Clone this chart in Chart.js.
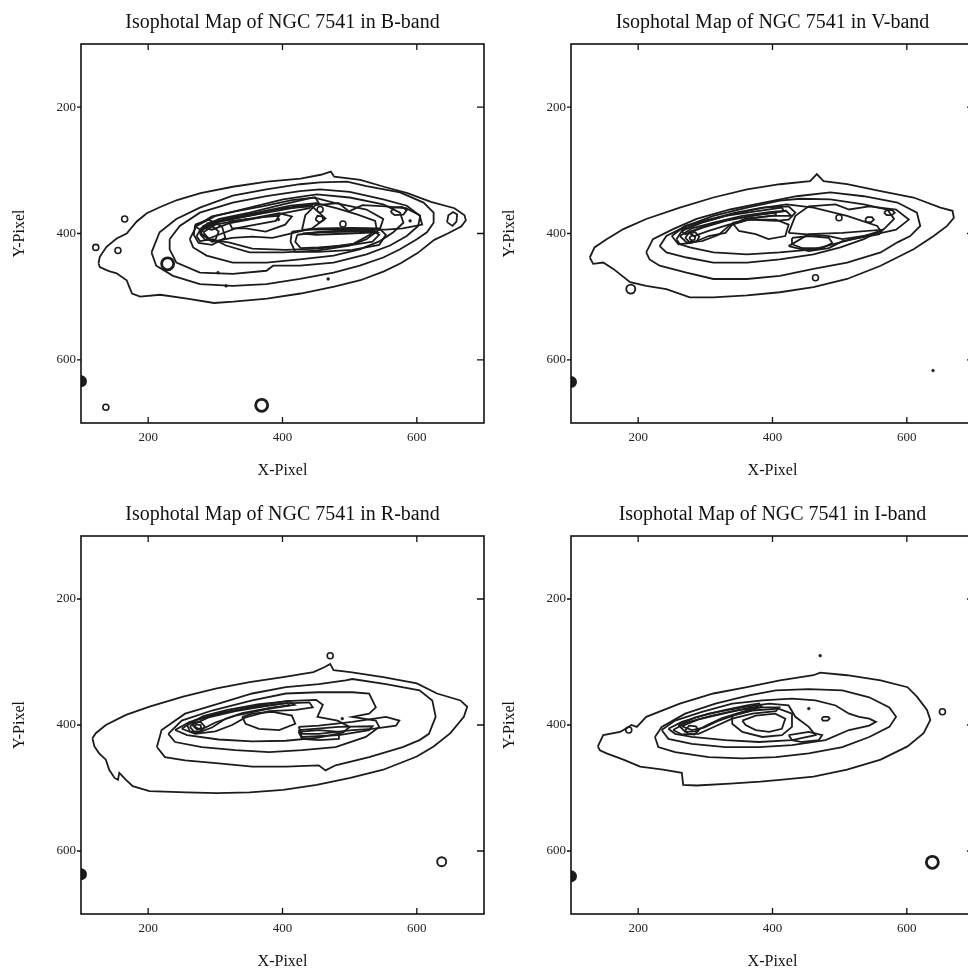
<!DOCTYPE html>
<html>
<head>
<meta charset="utf-8">
<title>Isophotal maps of NGC 7541</title>
<script src="https://cdn.jsdelivr.net/npm/chart.js@4.4.0/dist/chart.umd.min.js"></script>
<style>
  html, body { margin: 0; padding: 0; background: #fff; }
  #page { position: relative; width: 968px; height: 971px; overflow: hidden; background: #fff; }
  .panel { position: absolute; }
</style>
</head>
<body>
<div id="page">
  <canvas id="chartB" class="panel" style="left:0px;top:0px" width="487" height="486"></canvas>
  <canvas id="chartV" class="panel" style="left:490px;top:0px" width="487" height="486"></canvas>
  <canvas id="chartR" class="panel" style="left:0px;top:492px" width="487" height="485"></canvas>
  <canvas id="chartI" class="panel" style="left:490px;top:492px" width="487" height="485"></canvas>
</div>
<script>
// ---- axes ----
const xTicks = [200, 400, 600];
const yTicks = [200, 400, 600];
const axisMin = 100;
const axisMax = 700;

// ---- B-band contours (x, y pairs in pixel units of the image) ----
const bOuter = [126,447, 128,437, 138,421, 153,408, 168,400, 183,381, 198,368, 218,358, 243,347, 278,336, 326,326, 377,318, 427,313, 457,307, 472,302, 477,310, 516,315, 551,326, 586,336, 621,350, 656,360, 671,371, 673,379, 666,389, 646,400, 626,410, 601,431, 576,447, 551,460, 516,474, 477,484, 427,495, 377,503, 327,508, 298,510, 258,503, 218,497, 188,500, 176,495, 171,482, 168,474, 153,463, 143,460, 138,458, 128,453];
const bC2 = [205,430, 217,398, 242,377, 277,359, 326,340, 376,330, 426,322, 456,319, 496,318, 525,325, 575,335, 610,351, 625,367, 625,383, 615,398, 600,409, 575,425, 550,438, 515,451, 476,462, 426,472, 376,480, 326,483, 277,480, 237,467, 212,451];
const bC3 = [232,409, 247,388, 277,367, 326,351, 376,341, 426,333, 456,330, 500,334, 550,346, 585,356, 605,372, 602,388, 585,404, 560,419, 525,433, 476,446, 426,451, 386,451, 376,459, 326,464, 277,462, 242,446, 232,425];
const bC4 = [262,409, 272,388, 301,372, 351,359, 401,346, 451,338, 500,343, 550,354, 575,367, 580,383, 565,398, 545,412, 515,425, 476,435, 426,441, 376,446, 326,446, 287,435, 267,422];
const bC5 = [272,404, 282,388, 306,377, 351,367, 401,354, 446,343, 476,351, 525,362, 550,377, 545,393, 525,409, 500,419, 451,427, 401,430, 351,430, 316,419, 297,409, 277,412];
const bC6 = [278,400, 288,384, 318,376, 365,366, 412,356, 450,352, 480,360, 512,370, 538,380, 540,392, 530,402, 506,416, 454,424, 404,426, 355,424, 320,414, 292,410];
const bC7 = [275,397, 305,381, 355,371, 404,360, 444,357, 464,376, 444,392, 424,397, 404,402, 385,407, 355,405, 325,407, 295,413];
const bC8 = [282,398, 300,386, 330,380, 370,374, 395,372, 390,380, 360,386, 330,392, 305,402, 290,408];
const bArm = [270,389, 295,373, 330,365, 370,357, 414,347, 449,343, 454,352, 414,360, 370,368, 330,376, 295,384, 278,394];
const bArm2 = [285,392, 310,379, 345,372, 385,364, 425,356, 445,354, 440,360, 400,368, 360,376, 320,384, 295,394];
const bBar = [422,402, 454,398, 504,397, 534,396, 544,402, 534,413, 504,418, 454,422, 427,423, 419,413];
const bBar2 = [414,397, 454,392, 504,391, 544,392, 554,402, 544,418, 504,426, 454,429, 419,429, 412,413];
const bBar3 = [430,400, 480,396, 530,394, 540,398, 500,400, 450,402];
const bClump1 = [270,386, 290,378, 310,389, 315,407, 295,418, 275,415, 268,402];
const bClump2 = [278,392, 293,386, 305,397, 300,410, 285,410, 278,402];
const bPatch = [320,381, 355,376, 395,368, 414,373, 404,386, 375,397, 345,392, 325,392];
const bRight = [429,394, 434,371, 449,355, 484,352, 499,365, 519,355, 554,357, 584,360, 604,371, 608,386, 579,392, 554,394];
const bEll1 = [645,382, 647,371, 654,366, 660,370, 659,381, 653,388];
const bEll2 = [561,366, 566,359, 578,358, 585,363, 580,370, 567,371];
const bEll3 = [449,378, 452,372, 459,373, 461,379, 455,383];
const bRings = [[122,422], [155,427], [165,377], [490,385], [137,675], [456,362]];
const bBigRings = [[229,448], [369,672]];
const bEdge = [[100,634]];
const bDots = [[394,378], [590,380], [304,462], [468,472], [316,483]];

// ---- V-band ----
const vOuter = [128,438, 135,422, 153,409, 178,393, 212,377, 262,359, 312,343, 362,330, 411,322, 456,317, 466,306, 476,317, 511,322, 561,333, 610,343, 650,359, 668,364, 670,375, 660,388, 640,404, 610,425, 561,451, 511,472, 461,485, 411,493, 362,498, 312,501, 277,501, 242,488, 212,483, 188,477, 163,456, 148,446, 133,448];
const vC2 = [212,430, 222,409, 252,393, 287,377, 337,362, 387,351, 436,341, 486,335, 536,341, 586,351, 615,367, 620,388, 605,404, 586,414, 561,430, 511,446, 461,456, 411,467, 362,472, 312,472, 272,462, 232,451, 217,441];
const vC3 = [232,420, 242,404, 272,388, 312,372, 362,359, 411,348, 441,345, 486,346, 536,354, 571,362, 581,377, 566,393, 536,409, 501,422, 461,433, 411,441, 362,446, 312,446, 272,438, 242,430];
const vC4 = [257,409, 267,393, 292,383, 337,370, 387,359, 421,354, 461,359, 511,372, 556,388, 561,396, 536,404, 501,414, 461,425, 411,430, 362,433, 312,430, 277,422, 262,417];
const vC5 = [250,404, 270,388, 305,378, 345,367, 385,359, 424,357, 434,367, 424,378, 405,380, 365,378, 340,386, 330,399, 305,404, 280,415, 260,417];
const vC6 = [262,404, 280,392, 315,382, 355,372, 395,366, 420,364, 428,372, 400,372, 360,376, 335,388, 320,402, 295,412, 272,414];
const vArm = [265,396, 295,383, 330,372, 375,365, 414,359, 417,365, 375,371, 330,380, 295,391, 270,401];
const vArm2 = [275,398, 300,388, 335,378, 375,371, 405,367, 405,371, 370,376, 335,386, 305,396, 283,404];
const vPatch = [340,383, 365,378, 405,378, 424,386, 419,404, 394,409, 375,401, 350,396];
const vCore = [429,407, 454,404, 484,407, 489,415, 474,423, 444,423, 429,417];
const vCore2 = [424,420, 454,401, 504,399, 564,394, 559,401, 504,412, 484,423, 454,428];
const vRight = [424,399, 434,372, 454,357, 494,354, 514,362, 544,357, 584,362, 603,378, 584,394, 554,401, 504,409, 484,404];
const vClump1 = [270,407, 275,400, 285,398, 291,405, 287,413, 277,414];
const vClump2 = [276,407, 280,403, 285,405, 284,410, 279,411];
const vEll1 = [566,367, 570,363, 578,363, 582,367, 578,371, 570,371];
const vEll2 = [538,378, 541,374, 548,374, 551,378, 547,382, 540,382];
const vRings = [[464,470], [499,375]];
const vMidRings = [[189,488]];
const vEdge = [[100,635]];
const vDots = [[639,617]];

// ---- R-band ----
const rOuter = [117,421, 122,413, 137,400, 167,384, 202,371, 252,355, 302,342, 351,332, 401,324, 446,316, 463,308, 471,303, 476,313, 501,316, 550,324, 600,334, 630,350, 665,361, 675,371, 670,387, 650,413, 625,434, 600,450, 550,471, 501,484, 451,495, 401,503, 351,507, 302,508, 257,507, 202,505, 177,497, 167,487, 157,476, 155,487, 150,484, 142,471, 137,455, 127,445, 120,434];
const rC2 = [213,435, 220,408, 255,382, 305,366, 355,350, 405,340, 454,335, 494,329, 504,327, 554,335, 604,345, 623,361, 628,387, 618,414, 604,424, 579,435, 529,451, 479,464, 464,472, 454,464, 405,466, 355,466, 305,461, 255,456, 225,451];
const rC3 = [230,414, 250,393, 295,377, 355,361, 405,350, 454,348, 504,348, 529,350, 539,372, 529,382, 504,387, 539,393, 544,403, 524,419, 479,435, 429,440, 380,443, 330,440, 280,435, 240,427];
const rC4 = [240,408, 262,395, 310,381, 358,370, 405,362, 450,360, 460,368, 452,387, 482,393, 500,403, 490,412, 454,420, 405,425, 355,426, 305,423, 258,416];
const rC5 = [258,400, 282,386, 318,376, 365,367, 410,362, 418,368, 385,372, 340,381, 315,390, 295,404, 275,412, 262,410];
const rC6 = [250,406, 270,392, 310,380, 355,372, 400,366, 440,364, 445,372, 420,376, 380,378, 345,388, 325,400, 300,410, 270,414];
const rArm = [265,400, 290,388, 330,378, 375,370, 408,365, 410,369, 375,375, 330,385, 300,396, 278,408];
const rPatch = [340,387, 355,382, 385,379, 414,385, 419,398, 395,408, 365,406, 345,398];
const rCore = [424,411, 454,408, 484,411, 484,422, 454,424, 429,422];
const rCore2 = [424,408, 484,403, 534,402, 529,408, 484,416, 429,419];
const rRight = [424,403, 454,401, 504,395, 554,387, 574,393, 569,401, 534,406, 504,408, 454,414, 429,414];
const rClump1 = [262,403, 268,396, 278,395, 284,402, 279,410, 268,410];
const rClump2 = [268,403, 272,399, 278,400, 279,405, 273,407];
const rRings = [[471,290]];
const rMidRings = [[637,617]];
const rEdge = [[100,637]];
const rDots = [[489,390]];

// ---- I-band ----
const iOuter = [140,434, 148,416, 173,411, 183,405, 190,400, 198,403, 212,387, 262,366, 312,350, 362,340, 411,329, 461,321, 471,317, 511,321, 561,329, 601,340, 615,355, 630,376, 635,392, 625,413, 601,434, 561,455, 511,471, 461,482, 411,487, 382,490, 337,493, 287,496, 267,495, 265,476, 237,471, 203,466, 178,455, 153,445, 143,440];
const iC2 = [225,419, 235,403, 270,382, 315,366, 365,353, 405,345, 454,343, 504,345, 544,356, 574,372, 584,387, 574,403, 544,419, 504,435, 454,445, 405,451, 355,453, 305,451, 255,443, 230,435];
const iC3 = [235,408, 255,393, 295,379, 340,366, 385,361, 429,358, 464,361, 494,369, 514,382, 529,387, 544,390, 554,395, 544,401, 514,408, 479,424, 429,432, 380,435, 330,435, 280,430, 245,422];
const iC4 = [245,406, 265,395, 305,382, 355,372, 395,366, 424,369, 434,387, 454,403, 464,416, 429,424, 380,427, 330,424, 280,419, 255,414];
const iC5 = [260,400, 285,388, 325,377, 362,369, 380,366, 384,371, 355,379, 325,389, 305,399, 285,410, 270,411];
const iC6 = [252,408, 272,396, 310,385, 350,376, 385,372, 410,372, 405,378, 370,382, 340,390, 315,402, 290,414, 265,415];
const iArm = [265,402, 290,391, 330,381, 365,373, 378,371, 375,375, 345,384, 318,394, 298,404, 280,408];
const iCore = [355,393, 375,385, 404,382, 419,390, 414,406, 395,411, 375,408, 360,400];
const iCore2 = [340,385, 370,377, 409,374, 429,382, 429,403, 414,416, 385,419, 355,411, 340,398];
const iCore3 = [424,416, 454,411, 474,416, 469,424, 444,427, 429,424];
const iEll = [473,390, 476,387, 483,387, 485,390, 482,393, 475,393];
const iClump = [270,408, 276,401, 286,402, 290,409, 284,415, 274,414];
const iRings = [[186,408], [653,379]];
const iBigRings = [[638,618]];
const iEdge = [[100,640]];
const iDots = [[471,290], [454,374]];

// ---- style ----
const SERIF = "'Liberation Serif', 'Times New Roman', serif";
const LINE = '#1c1c1c';

// contour list (flat x,y) -> closed path of points
function toPts(flat) {
    const pts = [];
    for (let i = 0; i < flat.length; i += 2) {
        pts.push({ x: flat[i], y: flat[i + 1] });
    }
    pts.push({ x: flat[0], y: flat[1] }); // close the isophote
    return pts;
}

function toMarks(list) {
    return list.map(p => ({ x: p[0], y: p[1] }));
}

// frame + inward ticks (outward on the left side, like the original figure)
const frameTicks = {
    id: 'frameTicks',
    afterDatasetsDraw(chart) {
        const { ctx, chartArea: a, scales: { x, y } } = chart;
        ctx.save();
        ctx.strokeStyle = '#111';
        ctx.lineWidth = 1.6;
        ctx.strokeRect(a.left, a.top, a.right - a.left, a.bottom - a.top);
        ctx.lineWidth = 1.3;
        ctx.beginPath();
        xTicks.forEach(v => {
            const px = x.getPixelForValue(v);
            ctx.moveTo(px, a.bottom); ctx.lineTo(px, a.bottom - 6);
            ctx.moveTo(px, a.top); ctx.lineTo(px, a.top + 6);
        });
        yTicks.forEach(v => {
            const py = y.getPixelForValue(v);
            ctx.moveTo(a.right, py); ctx.lineTo(a.right - 7, py);
            ctx.moveTo(a.left, py); ctx.lineTo(a.left - 4, py);
        });
        ctx.stroke();
        ctx.restore();
    }
};

function markSet(list, radius, width, fillColor) {
    return {
        data: toMarks(list),
        showLine: false,
        pointRadius: radius,
        pointBorderWidth: width,
        pointBorderColor: LINE,
        pointBackgroundColor: fillColor,
        clip: 0
    };
}

function drawPanel(canvasId, band, contours, marks) {
    const datasets = contours.map(c => ({
        data: toPts(c),
        showLine: true,
        borderColor: LINE,
        borderWidth: 1.8,
        pointRadius: 0,
        tension: 0,
        fill: false,
        clip: 0
    }));
    if (marks.rings) datasets.push(markSet(marks.rings, 3, 1.6, '#fff'));
    if (marks.mid) datasets.push(markSet(marks.mid, 4.5, 1.9, '#fff'));
    if (marks.big) {
        datasets.push(markSet(marks.big, 6, 2.8, '#fff'));
        datasets.push(markSet(marks.big, 2.2, 1.2, '#fff'));
    }
    if (marks.edge) datasets.push(markSet(marks.edge, 5, 2, LINE));
    if (marks.dots) datasets.push(markSet(marks.dots, 1.4, 0.5, LINE));

    return new Chart(document.getElementById(canvasId), {
        type: 'scatter',
        data: { datasets },
        options: {
            responsive: false,
            animation: false,
            events: [],
            layout: { autoPadding: false, padding: { left: 0, right: 3, top: 0, bottom: 0 } },
            plugins: {
                legend: { display: false },
                tooltip: { enabled: false },
                title: {
                    display: true,
                    text: `Isophotal Map of NGC 7541 in ${band}-band`,
                    fullSize: false,
                    color: '#111',
                    font: { family: SERIF, size: 20, weight: 'normal' },
                    padding: { top: 11, bottom: 9 }
                }
            },
            scales: {
                x: {
                    type: 'linear',
                    min: axisMin,
                    max: axisMax,
                    afterBuildTicks: axis => { axis.ticks = xTicks.map(v => ({ value: v })); },
                    afterFit: scale => {
                        scale.height = 63;
                        scale.paddingLeft = 0;
                        scale.paddingRight = 0;
                    },
                    grid: { display: false, drawTicks: false },
                    border: { display: false },
                    ticks: { color: '#222', font: { family: SERIF, size: 13 }, padding: 7 },
                    title: {
                        display: true,
                        text: 'X-Pixel',
                        color: '#111',
                        font: { family: SERIF, size: 16 },
                        padding: { top: 0, bottom: 6 }
                    }
                },
                y: {
                    type: 'linear',
                    reverse: true,
                    min: axisMin,
                    max: axisMax,
                    afterBuildTicks: axis => { axis.ticks = yTicks.map(v => ({ value: v })); },
                    afterFit: scale => {
                        scale.width = 81;
                        scale.paddingTop = 0;
                        scale.paddingBottom = 0;
                    },
                    grid: { display: false, drawTicks: false },
                    border: { display: false },
                    ticks: { color: '#222', font: { family: SERIF, size: 13 }, padding: 5 },
                    title: {
                        display: true,
                        text: 'Y-Pixel',
                        color: '#111',
                        font: { family: SERIF, size: 16 },
                        padding: { top: 10, bottom: 0 }
                    }
                }
            }
        },
        plugins: [frameTicks]
    });
}

drawPanel('chartB', 'B',
    [bOuter, bC2, bC3, bC4, bC5, bC6, bC7, bC8, bArm, bArm2, bBar, bBar2, bBar3, bClump1, bClump2, bPatch, bRight, bEll1, bEll2, bEll3],
    { rings: bRings, big: bBigRings, edge: bEdge, dots: bDots });

drawPanel('chartV', 'V',
    [vOuter, vC2, vC3, vC4, vC5, vC6, vArm, vArm2, vPatch, vCore, vCore2, vRight, vClump1, vClump2, vEll1, vEll2],
    { rings: vRings, mid: vMidRings, edge: vEdge, dots: vDots });

drawPanel('chartR', 'R',
    [rOuter, rC2, rC3, rC4, rC5, rC6, rArm, rPatch, rCore, rCore2, rRight, rClump1, rClump2],
    { rings: rRings, mid: rMidRings, edge: rEdge, dots: rDots });

drawPanel('chartI', 'I',
    [iOuter, iC2, iC3, iC4, iC5, iC6, iArm, iCore, iCore2, iCore3, iEll, iClump],
    { rings: iRings, big: iBigRings, edge: iEdge, dots: iDots });
</script>
</body>
</html>
